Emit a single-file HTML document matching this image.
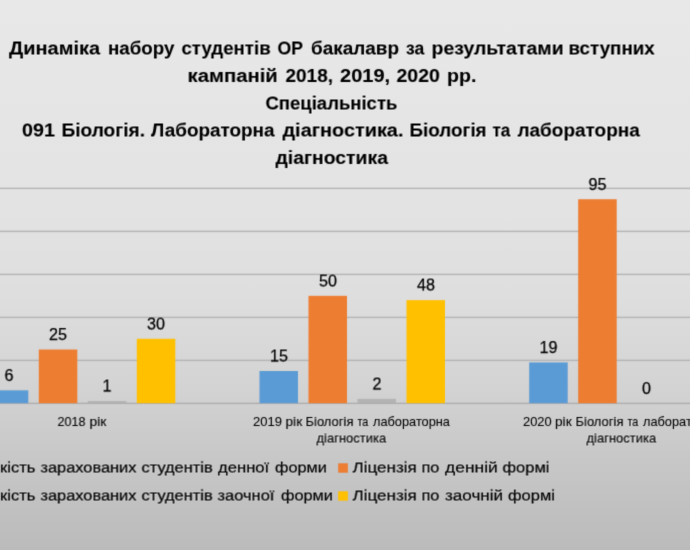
<!DOCTYPE html>
<html><head><meta charset="utf-8"><title>chart</title>
<style>
html,body{margin:0;padding:0;}
body{width:690px;height:550px;overflow:hidden;position:relative;font-family:"Liberation Sans", sans-serif;background:linear-gradient(to bottom,#e8e8e8 0.0%,#e5e5e5 22.5%,#e3e3e3 38.2%,#dedede 53.8%,#d9d9d9 61.8%,#d3d3d3 70.5%,#c8c8c8 82.5%,#c1c1c1 91.6%,#bbbbbb 100.0%);}
.g{position:absolute;left:0;width:690px;height:1.4px;background:#b4b4b4;}
.b{position:absolute;}
.t{position:absolute;white-space:nowrap;line-height:1;transform-origin:0 0;}
.T{font-size:18.7px;font-weight:bold;color:#000000;-webkit-text-stroke:0.1px #000000;}
.L{font-size:15.6px;color:#050505;-webkit-text-stroke:0.25px #050505;}
.C{font-size:12.2px;color:#050505;-webkit-text-stroke:0.08px #050505;}
.K{font-size:15.4px;color:#050505;-webkit-text-stroke:0.2px #050505;}
.w{position:absolute;left:0;top:0;width:690px;height:550px;overflow:hidden;}
#w00{filter:url(#f00);}
#w10{filter:url(#f10);}
#w01{filter:url(#f01);}
#w11{filter:url(#f11);}
</style></head><body>
<svg width="0" height="0" style="position:absolute"><filter id="f00" x="0" y="0" width="100%" height="100%" color-interpolation-filters="sRGB"><feConvolveMatrix order="3" kernelMatrix="0.0156 0.0938 0.0156 0.0938 0.5625 0.0938 0.0156 0.0938 0.0156" divisor="1" edgeMode="duplicate" preserveAlpha="false"/></filter><filter id="f10" x="0" y="0" width="100%" height="100%" color-interpolation-filters="sRGB"><feConvolveMatrix order="3" kernelMatrix="0.0000 0.0625 0.0625 0.0000 0.3750 0.3750 0.0000 0.0625 0.0625" divisor="1" edgeMode="duplicate" preserveAlpha="false"/></filter><filter id="f01" x="0" y="0" width="100%" height="100%" color-interpolation-filters="sRGB"><feConvolveMatrix order="3" kernelMatrix="0.0000 0.0000 0.0000 0.0625 0.3750 0.0625 0.0625 0.3750 0.0625" divisor="1" edgeMode="duplicate" preserveAlpha="false"/></filter><filter id="f11" x="0" y="0" width="100%" height="100%" color-interpolation-filters="sRGB"><feConvolveMatrix order="3" kernelMatrix="0.0000 0.0000 0.0000 0.0000 0.2500 0.2500 0.0000 0.2500 0.2500" divisor="1" edgeMode="duplicate" preserveAlpha="false"/></filter></svg>
<div class="w" id="w00">
<svg width="690" height="550" style="position:absolute;left:0;top:0" shape-rendering="geometricPrecision">
<rect x="0.00" y="359.70" width="690.00" height="1.40" fill="#b4b4b4"/>
<rect x="0.00" y="316.70" width="690.00" height="1.40" fill="#b4b4b4"/>
<rect x="0.00" y="273.70" width="690.00" height="1.40" fill="#b4b4b4"/>
<rect x="0.00" y="230.70" width="690.00" height="1.40" fill="#b4b4b4"/>
<rect x="0.00" y="187.70" width="690.00" height="1.40" fill="#b4b4b4"/>
<rect x="0.00" y="402.70" width="690.00" height="1.40" fill="#acacac"/>
<rect x="-10.20" y="390.32" width="38.50" height="12.88" fill="#5b9bd5"/>
<rect x="38.80" y="349.52" width="38.50" height="53.67" fill="#ed7d31"/>
<rect x="87.80" y="401.05" width="38.50" height="2.15" fill="#b3b3b3"/>
<rect x="136.80" y="338.79" width="38.50" height="64.41" fill="#ffc000"/>
<rect x="259.50" y="371.00" width="38.50" height="32.20" fill="#5b9bd5"/>
<rect x="308.50" y="295.85" width="38.50" height="107.35" fill="#ed7d31"/>
<rect x="357.50" y="398.91" width="38.50" height="4.29" fill="#b3b3b3"/>
<rect x="406.50" y="300.14" width="38.50" height="103.06" fill="#ffc000"/>
<rect x="529.20" y="362.41" width="38.50" height="40.79" fill="#5b9bd5"/>
<rect x="578.20" y="199.24" width="38.50" height="203.96" fill="#ed7d31"/>
<rect x="338.20" y="463.30" width="9.70" height="9.40" fill="#ed7d31"/>
<rect x="338.20" y="491.30" width="9.70" height="9.40" fill="#ffc000"/>
</svg>
<div class="t T" style="left:340px;top:67px;transform:scaleX(1.0718)">2019,</div>
<div class="t T" style="left:447px;top:67px;transform:scaleX(1.0471)">рр.</div>
<div class="t C" style="left:253px;top:416px;transform:scaleX(1.0692)">2019</div>
<div class="t C" style="left:373px;top:416px;transform:scaleX(1.0476)">лабораторна</div>
<div class="t C" style="left:523px;top:416px;transform:scaleX(1.0590)">2020</div>
<div class="t C" style="left:555px;top:416px;transform:scaleX(1.1228)">рік</div>
<div class="t C" style="left:643px;top:416px;transform:scaleX(1.0476)">лабораторна</div>
<div class="t L" style="left:49px;top:327px;transform:scaleX(1.0350)">25</div>
<div class="t L" style="left:642px;top:381px;transform:scaleX(1.0350)">0</div>
</div>
<div class="w" id="w10">
<div class="t T" style="left:187px;top:67px;transform:scaleX(1.0848)">кампаній</div>
<div class="t T" style="left:285px;top:67px;transform:scaleX(1.0144)">2018,</div>
<div class="t T" style="left:396px;top:67px;transform:scaleX(1.0420)">2020</div>
<div class="t T" style="left:275px;top:149px;transform:scaleX(1.0363)">діагностика</div>
<div class="t C" style="left:57px;top:416px;transform:scaleX(1.0324)">2018</div>
<div class="t C" style="left:89px;top:416px;transform:scaleX(1.1368)">рік</div>
<div class="t C" style="left:285px;top:416px;transform:scaleX(1.1228)">рік</div>
<div class="t C" style="left:305px;top:416px;transform:scaleX(1.0659)">Біологія</div>
<div class="t C" style="left:357px;top:416px;transform:scaleX(0.8816)">та</div>
<div class="t C" style="left:575px;top:416px;transform:scaleX(1.0659)">Біологія</div>
<div class="t C" style="left:627px;top:416px;transform:scaleX(0.8816)">та</div>
<div class="t L" style="left:4px;top:368px;transform:scaleX(1.0350)">6</div>
<div class="t L" style="left:539px;top:340px;transform:scaleX(1.0350)">19</div>
<div class="t L" style="left:588px;top:177px;transform:scaleX(1.0350)">95</div>
</div>
<div class="w" id="w01">
<div class="t T" style="left:9px;top:39px;transform:scaleX(1.0678)">Динаміка</div>
<div class="t T" style="left:108px;top:39px;transform:scaleX(1.0031)">набору</div>
<div class="t T" style="left:311px;top:39px;transform:scaleX(1.0129)">бакалавр</div>
<div class="t T" style="left:406px;top:39px;transform:scaleX(0.9351)">за</div>
<div class="t T" style="left:22px;top:121px;transform:scaleX(1.0533)">091</div>
<div class="t T" style="left:151px;top:121px;transform:scaleX(1.0114)">Лабораторна</div>
<div class="t K" style="left:445px;top:459px;transform:scaleX(1.1341)">денній</div>
<div class="t K" style="left:445px;top:487px;transform:scaleX(1.1083)">заочній</div>
<div class="t K" style="left:508px;top:487px;transform:scaleX(1.0706)">формі</div>
<div class="t K" style="left:218px;top:459px;transform:scaleX(1.0815)">денної</div>
<div class="t K" style="left:275px;top:459px;transform:scaleX(1.0589)">форми</div>
<div class="t K" style="left:281px;top:487px;transform:scaleX(1.0611)">форми</div>
<div class="t K" style="left:0px;top:459px;transform:scaleX(1.0720)">кість</div>
<div class="t K" style="left:0px;top:487px;transform:scaleX(1.0720)">кість</div>
<div class="t L" style="left:147px;top:316px;transform:scaleX(1.0350)">30</div>
<div class="t L" style="left:270px;top:348px;transform:scaleX(1.0350)">15</div>
<div class="t L" style="left:319px;top:273px;transform:scaleX(1.0350)">50</div>
<div class="t L" style="left:417px;top:277px;transform:scaleX(1.0350)">48</div>
</div>
<div class="w" id="w11">
<div class="t T" style="left:181px;top:39px;transform:scaleX(0.9977)">студентів</div>
<div class="t T" style="left:277px;top:39px;transform:scaleX(0.9437)">ОР</div>
<div class="t T" style="left:431px;top:39px;transform:scaleX(1.0410)">результатами</div>
<div class="t T" style="left:568px;top:39px;transform:scaleX(1.0036)">вступних</div>
<div class="t T" style="left:265px;top:94px;transform:scaleX(0.9905)">Спеціальність</div>
<div class="t T" style="left:61px;top:121px;transform:scaleX(1.0221)">Біологія.</div>
<div class="t T" style="left:282px;top:121px;transform:scaleX(1.0640)">діагностика.</div>
<div class="t T" style="left:409px;top:121px;transform:scaleX(1.0081)">Біологія</div>
<div class="t T" style="left:492px;top:121px;transform:scaleX(0.9143)">та</div>
<div class="t T" style="left:517px;top:121px;transform:scaleX(1.0153)">лабораторна</div>
<div class="t C" style="left:316px;top:432px;transform:scaleX(1.0641)">діагностика</div>
<div class="t C" style="left:586px;top:432px;transform:scaleX(1.0641)">діагностика</div>
<div class="t K" style="left:352px;top:459px;transform:scaleX(1.1070)">Ліцензія</div>
<div class="t K" style="left:421px;top:459px;transform:scaleX(1.0623)">по</div>
<div class="t K" style="left:502px;top:459px;transform:scaleX(1.0729)">формі</div>
<div class="t K" style="left:352px;top:487px;transform:scaleX(1.1070)">Ліцензія</div>
<div class="t K" style="left:421px;top:487px;transform:scaleX(1.0623)">по</div>
<div class="t K" style="left:40px;top:459px;transform:scaleX(1.0630)">зарахованих</div>
<div class="t K" style="left:141px;top:459px;transform:scaleX(1.0646)">студентів</div>
<div class="t K" style="left:40px;top:487px;transform:scaleX(1.0630)">зарахованих</div>
<div class="t K" style="left:141px;top:487px;transform:scaleX(1.0646)">студентів</div>
<div class="t K" style="left:217px;top:487px;transform:scaleX(1.0698)">заочної</div>
<div class="t L" style="left:102px;top:378px;transform:scaleX(1.0350)">1</div>
<div class="t L" style="left:372px;top:376px;transform:scaleX(1.0350)">2</div>
</div>
</body></html>
